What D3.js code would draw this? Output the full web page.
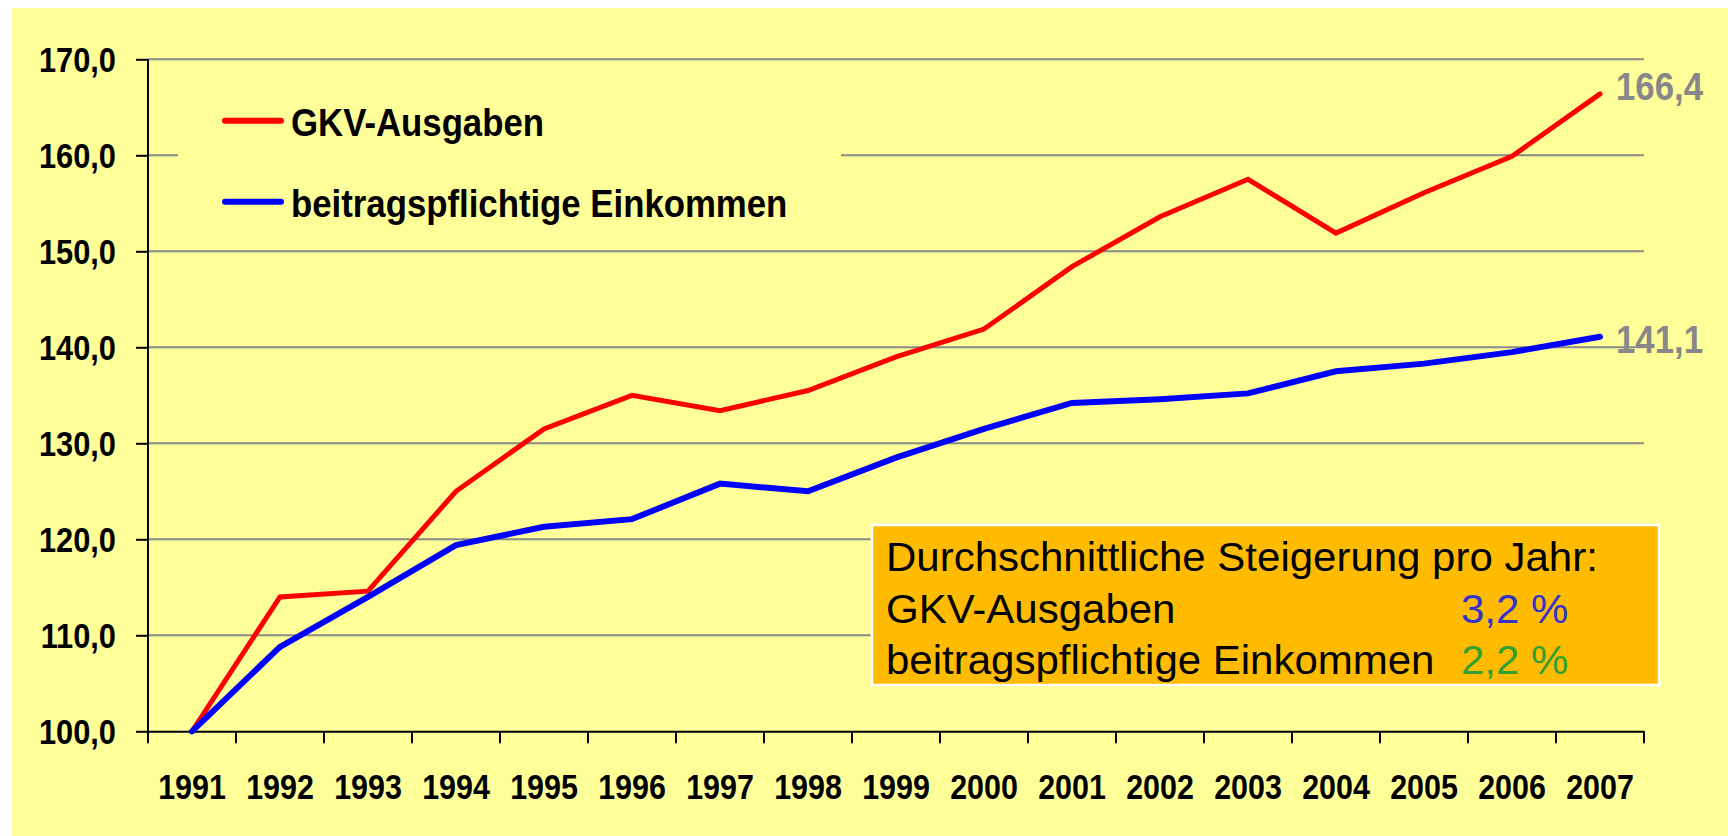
<!DOCTYPE html>
<html>
<head>
<meta charset="utf-8">
<script src="https://cdn.jsdelivr.net/npm/d3@7"></script>
<style>
  html, body { margin: 0; padding: 0; background: #ffffff; }
  svg { display: block; }
</style>
</head>
<body>
<svg id="chart" width="1728" height="836"></svg>
<script>
// ---- data ----
const years = ["1991","1992","1993","1994","1995","1996","1997","1998","1999","2000","2001","2002","2003","2004","2005","2006","2007"];
const gkvAusgaben = [100.0,114.0,114.6,125.0,131.5,135.0,133.4,135.5,139.0,141.9,148.4,153.6,157.5,151.9,156.1,159.9,166.4];
const beitragsEinkommen = [100.0,108.8,114.0,119.4,121.3,122.1,125.8,125.0,128.5,131.5,134.2,134.6,135.2,137.5,138.3,139.5,141.1];
const yTicks = [100,110,120,130,140,150,160,170];
const seriesNames = ["GKV-Ausgaben","beitragspflichtige Einkommen"];
const seriesColors = ["#ff0000","#0000ff"];
const endLabels = ["166,4","141,1"];
const boxTitle = "Durchschnittliche Steigerung pro Jahr:";
const boxRows = ["GKV-Ausgaben","beitragspflichtige Einkommen"];
const boxValues = ["3,2 %","2,2 %"];
const boxValueColors = ["#3333cc","#33a033"];

(function () {
// ---- layout ----
const svg = d3.select("#chart");
const pLeft = 148, pRight = 1644, pTop = 59.3, pBottom = 731.3;

svg.append("rect").attr("x", 12).attr("y", 8).attr("width", 1728 - 12).attr("height", 836 - 8).attr("fill", "#ffff99");

const x = d3.scaleBand().domain(years).range([pLeft, pRight]);
const y = d3.scaleLinear().domain([100, 170]).range([pBottom, pTop]);
const cx = d => x(d) + x.bandwidth() / 2;

// gridlines
svg.append("g").selectAll("line").data(yTicks.filter(t => t > 100)).join("line")
  .attr("x1", pLeft).attr("x2", pRight)
  .attr("y1", d => y(d)).attr("y2", d => y(d))
  .attr("stroke", "#8a8a8a").attr("stroke-width", 2);

// legend background (interrupts gridline)
svg.append("rect").attr("x", 178).attr("y", 85).attr("width", 841 - 178).attr("height", 150).attr("fill", "#ffff99");

// y axis
const yAxis = svg.append("g").attr("transform", `translate(${pLeft},0)`)
  .call(d3.axisLeft(y).tickValues(yTicks).tickSize(12).tickSizeOuter(0).tickFormat(""));
yAxis.select(".domain").attr("stroke", "#000").attr("stroke-width", 2).attr("d", `M0,${pTop}V${pBottom + 12}`);
yAxis.selectAll(".tick line").attr("stroke", "#000").attr("stroke-width", 2);

// x axis
const xAxis = svg.append("g").attr("transform", `translate(0,${pBottom})`)
  .call(d3.axisBottom(x).tickSize(0).tickSizeOuter(0).tickFormat(""));
xAxis.select(".domain").attr("stroke", "#000").attr("stroke-width", 2);
const bounds = years.map(d => x(d)).concat([pRight]);
xAxis.append("g").selectAll("line").data(bounds.slice(1)).join("line")
  .attr("x1", d => d).attr("x2", d => d).attr("y1", 0).attr("y2", 12)
  .attr("stroke", "#000").attr("stroke-width", 2);

// y tick labels
const fmt = v => d3.format(".1f")(v).replace(".", ",");
svg.append("g").selectAll("text").data(yTicks).join("text")
  .attr("transform", d => `translate(116,${y(d) + 12.5}) scale(0.88,1)`)
  .attr("text-anchor", "end")
  .attr("font-family", "'Liberation Sans', Arial, sans-serif")
  .attr("font-weight", "bold").attr("font-size", 35).attr("fill", "#000")
  .text(fmt);

// x tick labels
svg.append("g").selectAll("text").data(years).join("text")
  .attr("transform", d => `translate(${cx(d)},799) scale(0.87,1)`)
  .attr("text-anchor", "middle")
  .attr("font-family", "'Liberation Sans', Arial, sans-serif")
  .attr("font-weight", "bold").attr("font-size", 35).attr("fill", "#000")
  .text(d => d);

// lines
const line = d3.line().x((d, i) => cx(years[i])).y(d => y(d));
[gkvAusgaben, beitragsEinkommen].forEach((s, i) => {
  svg.append("path").datum(s).attr("d", line)
    .attr("fill", "none").attr("stroke", seriesColors[i])
    .attr("stroke-width", i === 0 ? 5 : 6).attr("stroke-linejoin", "miter").attr("stroke-linecap", "round");
});

// end labels
const endDy = [6, 16];
[gkvAusgaben, beitragsEinkommen].forEach((s, i) => {
  svg.append("text")
    .attr("transform", `translate(${cx(years[years.length - 1]) + 16},${y(s[s.length - 1]) + endDy[i]}) scale(0.915,1)`)
    .attr("font-family", "'Liberation Sans', Arial, sans-serif")
    .attr("font-weight", "bold").attr("font-size", 38).attr("fill", "#888888")
    .text(endLabels[i]);
});

// legend
const legendY = [120.7, 201.7];
seriesNames.forEach((n, i) => {
  svg.append("line").attr("x1", 225).attr("x2", 281).attr("y1", legendY[i]).attr("y2", legendY[i])
    .attr("stroke", seriesColors[i]).attr("stroke-width", 6).attr("stroke-linecap", "round");
  svg.append("text")
    .attr("transform", `translate(291,${legendY[i] + 15}) scale(0.915,1)`)
    .attr("font-family", "'Liberation Sans', Arial, sans-serif")
    .attr("font-weight", "bold").attr("font-size", 38).attr("fill", "#000")
    .text(n);
});

// info box
svg.append("rect").attr("x", 872).attr("y", 525).attr("width", 1659 - 872).attr("height", 685 - 525)
  .attr("fill", "#ffbb00").attr("stroke", "#ffffff").attr("stroke-width", 2.5);
const boxFont = "'Liberation Sans', Arial, sans-serif";
svg.append("text").attr("transform", "translate(886,570.7) scale(1.05,1)")
  .attr("font-family", boxFont).attr("font-size", 40).attr("fill", "#000").text(boxTitle);
const rowY = [622.7, 674];
boxRows.forEach((r, i) => {
  svg.append("text").attr("transform", `translate(886,${rowY[i]}) scale(1.05,1)`)
    .attr("font-family", boxFont).attr("font-size", 40).attr("fill", "#000").text(r);
  svg.append("text").attr("transform", `translate(1461,${rowY[i]}) scale(1.05,1)`)
    .attr("font-family", boxFont).attr("font-size", 40).attr("fill", boxValueColors[i]).text(boxValues[i]);
});
})();
</script>
</body>
</html>
